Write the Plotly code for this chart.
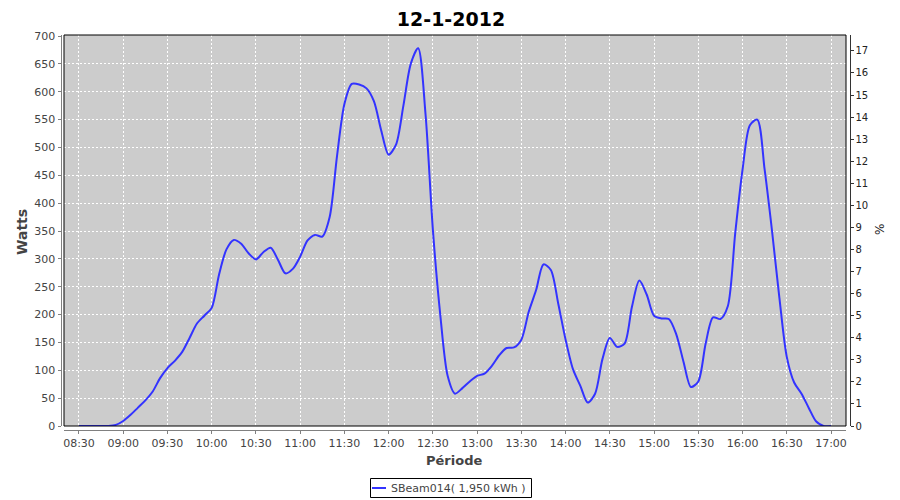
import plotly.graph_objects as go

# ---- data (5-minute samples) ----
times = [
    "08:30", "08:35", "08:40", "08:45", "08:50", "08:55",
    "09:00", "09:05", "09:10", "09:15", "09:20", "09:25",
    "09:30", "09:35", "09:40", "09:45", "09:50", "09:55",
    "10:00", "10:05", "10:10", "10:15", "10:20", "10:25",
    "10:30", "10:35", "10:40", "10:45", "10:50", "10:55",
    "11:00", "11:05", "11:10", "11:15", "11:20", "11:25",
    "11:30", "11:35", "11:40", "11:45", "11:50", "11:55",
    "12:00", "12:05", "12:10", "12:15", "12:20", "12:25",
    "12:30", "12:35", "12:40", "12:45", "12:50", "12:55",
    "13:00", "13:05", "13:10", "13:15", "13:20", "13:25",
    "13:30", "13:35", "13:40", "13:45", "13:50", "13:55",
    "14:00", "14:05", "14:10", "14:15", "14:20", "14:25",
    "14:30", "14:35", "14:40", "14:45", "14:50", "14:55",
    "15:00", "15:05", "15:10", "15:15", "15:20", "15:25",
    "15:30", "15:35", "15:40", "15:45", "15:50", "15:55",
    "16:00", "16:05", "16:10", "16:15", "16:20", "16:25",
    "16:30", "16:35", "16:40", "16:45", "16:50", "16:55",
    "17:00",
]
watts = [
    0, 0, 0, 0, 0, 2,
    9, 20, 33, 46, 62, 86,
    104, 117, 133, 158, 184, 198,
    212, 272, 317, 334, 327, 310,
    299, 312, 320, 298, 274, 282,
    304, 333, 343, 340, 375, 485,
    578, 614, 613, 606, 583, 530,
    487, 505, 575, 650, 678, 560,
    352, 200, 90, 58, 68, 80,
    90, 94, 108, 127, 140, 141,
    155, 205, 244, 290, 280, 220,
    155, 102, 72, 42, 58, 120,
    158, 142, 148, 214, 261, 236,
    198, 193, 192, 165, 115, 70,
    80, 148, 195, 192, 215, 345,
    460, 540, 550, 460, 350, 230,
    124, 78, 58, 32, 8, 0,
    0,
]
day = "2012-01-12"
series_name = "SBeam014( 1,950 kWh )"
title_text = "12-1-2012"
line_color = "#3333FF"

x_vals = [f"{day} {t}" for t in times]

# The page body adds an 8px margin, so the figure is 8px smaller and all
# pixel positions below are reference positions minus 8.
OFF = 8
W, H = 900 - OFF, 500 - OFF
L, R, T, B = 64 - OFF, 846 - OFF, 35 - OFF, 426 - OFF  # plot area


def px_x(x):
    return (x - OFF) / W


def px_y(y):
    return 1 - (y - OFF) / H


fig = go.Figure()
fig.add_trace(go.Scatter(
    x=x_vals, y=watts, mode="lines", name=series_name, showlegend=False,
    line=dict(color=line_color, width=2, shape="spline", smoothing=0.8),
))
fig.add_trace(go.Scatter(x=[], y=[], yaxis="y2", showlegend=False, hoverinfo="skip"))

font_family = "DejaVu Sans"
grid = dict(showgrid=True, gridcolor="white", griddash="2px,2px", gridwidth=1)

fig.update_layout(
    width=W, height=H,
    margin=dict(l=0, r=0, t=0, b=0, pad=0),
    paper_bgcolor="white",
    plot_bgcolor="#CCCCCC",
    font=dict(family=font_family, size=11, color="#444444"),
    title=dict(text=f"<b>{title_text}</b>", x=px_x(451), xref="paper",
               y=1 - 5 / H, yref="container", yanchor="top", xanchor="center",
               pad=dict(t=0, b=0),
               font=dict(family=font_family, size=19, color="black")),
    showlegend=False,
    xaxis=dict(
        domain=[L / W, R / W], anchor="free", position=px_y(430),
        type="date", range=[f"{day} 08:19:50", f"{day} 17:10:10"],
        tickmode="linear", tick0=f"{day} 08:30", dtick=30 * 60 * 1000,
        tickformat="%H:%M", ticks="outside", ticklen=3, tickcolor="#808080",
        showline=True, linecolor="#808080", linewidth=1,
        zeroline=False, automargin=False, **grid,
    ),
    yaxis=dict(
        domain=[1 - B / H, 1 - T / H], anchor="free", position=px_x(60.5),
        range=[0, 701.8], tickmode="linear", tick0=0, dtick=50,
        ticks="outside", ticklen=3, tickcolor="#808080",
        showline=True, linecolor="#808080", linewidth=1,
        zeroline=False, automargin=False, **grid,
    ),
    yaxis2=dict(
        overlaying="y", side="right", anchor="free", position=px_x(849.5),
        range=[0, 17.72], tickmode="linear", tick0=0, dtick=1,
        ticks="outside", ticklen=3, tickcolor="#333333",
        showline=True, linecolor="#333333", linewidth=1,
        showgrid=False, zeroline=False, automargin=False,
        tickfont=dict(family=font_family, size=10, color="#222222"),
    ),
    shapes=[
        dict(type="rect", xref="x domain", yref="y domain",
             x0=0, x1=1, y0=0, y1=1, line=dict(color="black", width=1),
             layer="above"),
        # legend box and line sample
        dict(type="rect", xref="paper", yref="paper",
             x0=px_x(370.5), x1=px_x(531.5), y0=px_y(478.5), y1=px_y(497.5),
             line=dict(color="black", width=1), fillcolor="white", layer="above"),
        dict(type="line", xref="paper", yref="paper",
             x0=px_x(372), x1=px_x(386), y0=px_y(488), y1=px_y(488),
             line=dict(color=line_color, width=2), layer="above"),
    ],
    annotations=[
        dict(text="<b>Watts</b>", x=px_x(22), y=px_y(232), xref="paper", yref="paper",
             textangle=-90, showarrow=False, xanchor="center", yanchor="middle",
             font=dict(family=font_family, size=14, color="#444444")),
        dict(text="<b>Période</b>", x=px_x(454), y=px_y(460), xref="paper", yref="paper",
             showarrow=False, xanchor="center", yanchor="middle",
             font=dict(family=font_family, size=13, color="#444444")),
        dict(text="%", x=px_x(880), y=px_y(230), xref="paper", yref="paper",
             textangle=-90, showarrow=False, xanchor="center", yanchor="middle",
             font=dict(family=font_family, size=12, color="#222222")),
        dict(text=series_name, x=px_x(389), y=px_y(488), xref="paper", yref="paper",
             showarrow=False, xanchor="left", yanchor="middle",
             font=dict(family=font_family, size=11, color="#444444")),
    ],
)

fig.write_html("out.html")
